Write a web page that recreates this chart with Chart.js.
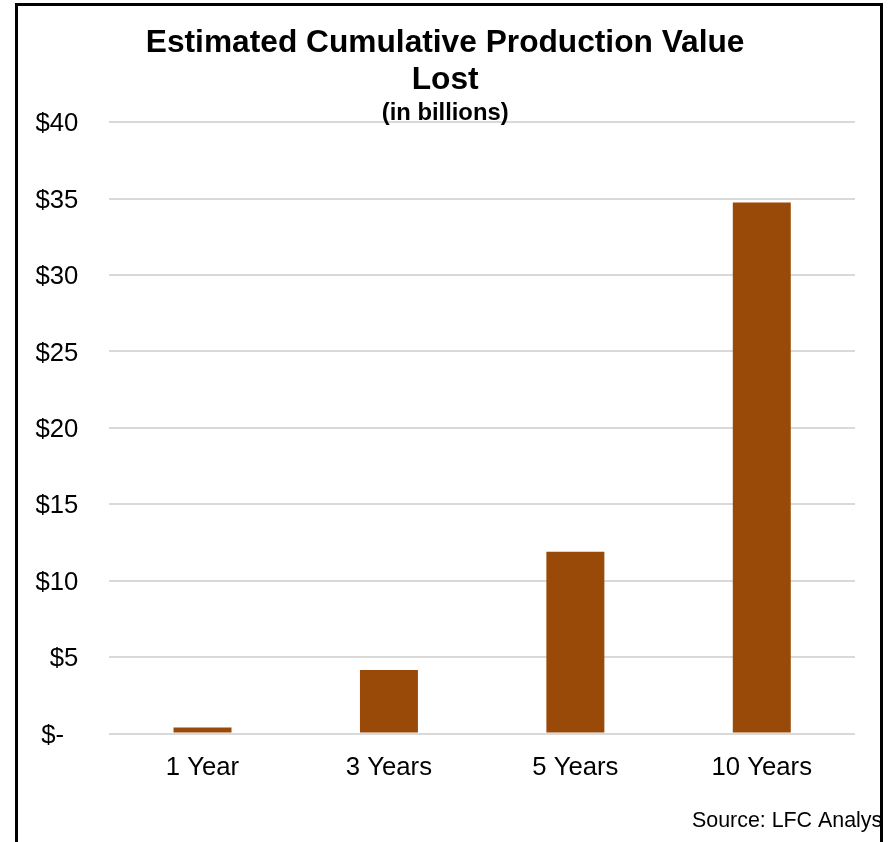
<!DOCTYPE html>
<html>
<head>
<meta charset="utf-8">
<script src="https://cdn.jsdelivr.net/npm/chart.js@4/dist/chart.umd.min.js"></script>
<style>
  html, body { margin: 0; padding: 0; background: #fff; overflow: hidden; width: 896px; height: 842px; }
  #frame { position: absolute; left: 15px; top: 3px; width: 862px; height: 900px; border: 3px solid #000; border-bottom: none; overflow: hidden; }
  #c { display: block; }
</style>
</head>
<body>
<div id="frame"><canvas id="c" width="862" height="836"></canvas></div>
<script>
const categories = ["1 Year", "3 Years", "5 Years", "10 Years"];
const lostValues = [0.4, 4.15, 11.9, 34.75];
const tickValues = [0, 5, 10, 15, 20, 25, 30, 35, 40];
const titleLines = ["Estimated Cumulative Production Value", "Lost"];
const subtitleText = "(in billions)";
const sourceText = "Source: LFC Analysis";

const FONT = "'Liberation Sans', Arial, sans-serif";

const sourcePlugin = {
  id: 'sourceNote',
  afterDraw(chart) {
    const ctx = chart.ctx;
    ctx.save();
    ctx.font = "21.4px " + FONT;
    ctx.fillStyle = "#000";
    ctx.textAlign = "left";
    ctx.textBaseline = "alphabetic";
    ctx.fillText(sourceText, 674, 821);
    ctx.restore();
  }
};

new Chart(document.getElementById('c'), {
  type: 'bar',
  data: {
    labels: categories,
    datasets: [{
      data: lostValues,
      backgroundColor: 'rgb(153,73,8)',
      borderWidth: 0,
      categoryPercentage: 1,
      barPercentage: 0.311
    }]
  },
  options: {
    responsive: false,
    animation: false,
    layout: { padding: { left: 17.3, right: 25, top: 0, bottom: 61.7 } },
    plugins: {
      legend: { display: false },
      tooltip: { enabled: false },
      title: {
        display: true,
        text: titleLines,
        color: '#000',
        font: { family: FONT, size: 31.7, weight: 'bold', lineHeight: 1.167 },
        padding: { top: 18.5, bottom: 0 }
      },
      subtitle: {
        display: true,
        text: subtitleText,
        color: '#000',
        font: { family: FONT, size: 23.8, weight: 'bold', lineHeight: 1.0 },
        padding: { top: 3, bottom: -3 }
      }
    },
    scales: {
      x: {
        grid: { display: false, drawTicks: false },
        border: { display: false },
        afterFit(scale) { scale.height = 46.8; },
        ticks: {
          color: '#000',
          font: { family: FONT, size: 25.7 },
          padding: 19
        }
      },
      y: {
        min: 0,
        max: 40,
        afterBuildTicks(scale) { scale.ticks = tickValues.map(v => ({ value: v })); },
        afterFit(scale) { scale.width = 74; },
        grid: { color: '#d9d9d9', lineWidth: 2, drawTicks: false },
        border: { display: false },
        ticks: {
          color: '#000',
          font: { family: FONT, size: 25.7 },
          padding: 31,
          labelOffset: 2,
          callback: (v) => v === 0 ? '$-  ' : '$' + v
        }
      }
    }
  },
  plugins: [sourcePlugin]
});
</script>
</body>
</html>
